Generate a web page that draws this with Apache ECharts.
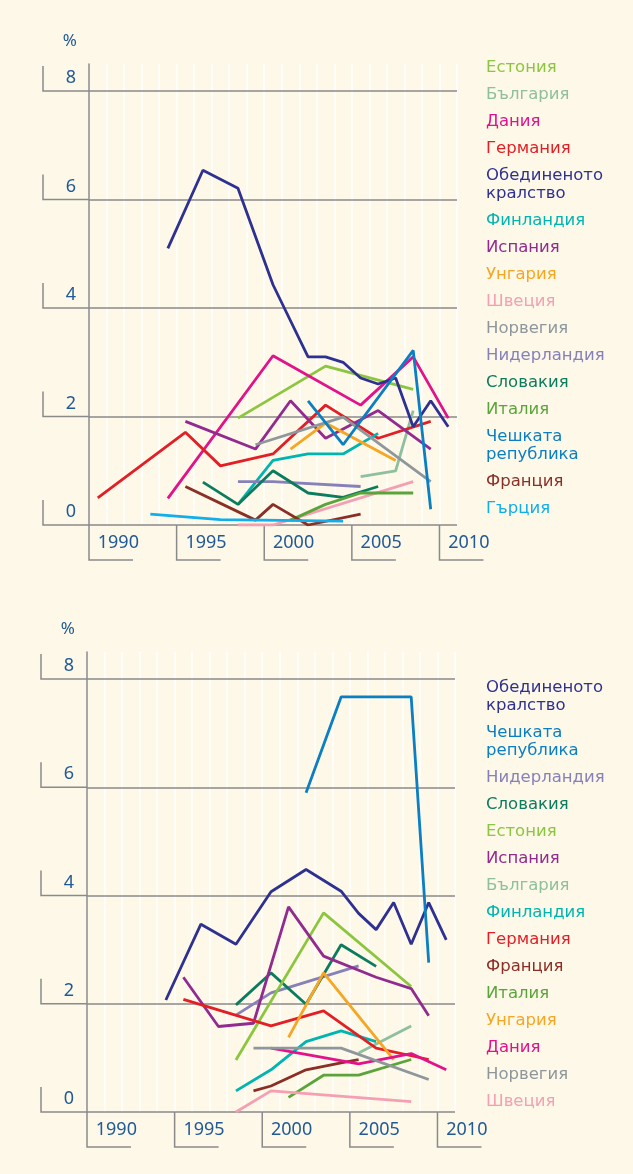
<!DOCTYPE html>
<html>
<head>
<meta charset="utf-8">
<script src="https://cdn.jsdelivr.net/npm/echarts@6/dist/echarts.min.js"></script>
<style>
  html, body { margin: 0; padding: 0; background: #fdf8e8; }
  #chart { width: 633px; height: 1174px; }
</style>
</head>
<body>
<div id="chart"></div>
<script>
// years on the x axis (one band per year)
const years = ['1990', '1991', '1992', '1993', '1994', '1995', '1996', '1997', '1998', '1999', '2000',
  '2001', '2002', '2003', '2004', '2005', '2006', '2007', '2008', '2009', '2010'];
const yearLabels = ['1990', '1995', '2000', '2005', '2010'];
const yTicks = [0, 2, 4, 6, 8];

// top chart: [year, %]
const estonia1 = [[1998, 1.97], [2003, 2.93], [2008, 2.50]];
const bulgaria1 = [[2005, 0.89], [2007, 1.00], [2008, 2.11]];
const denmark1 = [[1994, 0.49], [2000, 3.12], [2005, 2.21], [2008, 3.10], [2010, 1.97]];
const germany1 = [[1990, 0.50], [1995, 1.71], [1997, 1.09], [2000, 1.31], [2003, 2.21], [2006, 1.60], [2009, 1.91]];
const uk1 = [[1994, 5.10], [1996, 6.54], [1998, 6.21], [2000, 4.43], [2002, 3.10], [2003, 3.10], [2004, 3.00],
  [2005, 2.71], [2006, 2.60], [2007, 2.71], [2008, 1.81], [2009, 2.29], [2010, 1.81]];
const finland1 = [[1998, 0.38], [2000, 1.19], [2002, 1.31], [2004, 1.31], [2006, 1.69]];
const spain1 = [[1995, 1.91], [1999, 1.40], [2001, 2.29], [2003, 1.60], [2006, 2.11], [2009, 1.40]];
const hungary1 = [[2001, 1.40], [2003, 1.88], [2007, 1.19]];
const sweden1 = [[1998, 0], [2000, 0], [2008, 0.80]];
const norway1 = [[1999, 1.48], [2004, 1.99], [2009, 0.80]];
const netherlands1 = [[1998, 0.80], [2000, 0.80], [2005, 0.71]];
const slovakia1 = [[1996, 0.79], [1998, 0.38], [2000, 1.00], [2002, 0.59], [2004, 0.51], [2006, 0.71]];
const italy1 = [[2001, 0.09], [2003, 0.38], [2005, 0.59], [2008, 0.59]];
const czech1 = [[2002, 2.29], [2004, 1.48], [2008, 3.22], [2009, 0.29]];
const france1 = [[1995, 0.71], [1999, 0.09], [2000, 0.38], [2002, 0], [2005, 0.20]];
const greece1 = [[1993, 0.20], [1997, 0.10], [2004, 0.07]];

// bottom chart: [year, %]
const uk2 = [[1994, 2.07], [1996, 3.47], [1998, 3.10], [2000, 4.07], [2002, 4.48], [2004, 4.08], [2005, 3.67],
  [2006, 3.37], [2007, 3.87], [2008, 3.10], [2009, 3.87], [2010, 3.18]];
const czech2 = [[2002, 5.90], [2004, 7.67], [2008, 7.67], [2009, 2.76]];
const netherlands2 = [[1998, 1.79], [2000, 2.20], [2005, 2.70]];
const slovakia2 = [[1998, 1.98], [2000, 2.57], [2002, 1.99], [2004, 3.09], [2006, 2.69]];
const estonia2 = [[1998, 0.96], [2003, 3.68], [2008, 2.32]];
const spain2 = [[1995, 2.49], [1997, 1.58], [1999, 1.64], [2001, 3.79], [2003, 2.88], [2006, 2.49], [2008, 2.28], [2009, 1.78]];
const bulgaria2 = [[2005, 1.09], [2008, 1.59]];
const finland2 = [[1998, 0.39], [2000, 0.78], [2002, 1.30], [2004, 1.50], [2006, 1.30]];
const germany2 = [[1995, 2.08], [2000, 1.59], [2003, 1.87], [2006, 1.18], [2009, 0.97]];
const france2 = [[1999, 0.39], [2000, 0.48], [2002, 0.78], [2004, 0.91], [2005, 0.97]];
const italy2 = [[2001, 0.27], [2003, 0.68], [2005, 0.68], [2008, 0.97]];
const hungary2 = [[2001, 1.38], [2003, 2.57], [2007, 0.97]];
const denmark2 = [[2000, 1.18], [2005, 0.89], [2008, 1.08], [2010, 0.78]];
const norway2 = [[1999, 1.18], [2004, 1.18], [2009, 0.60]];
const sweden2 = [[1998, 0], [2000, 0.39], [2008, 0.19]];

const colors = {
  'Естония': '#8cc63f',
  'България': '#8fc09e',
  'Дания': '#e2128b',
  'Германия': '#e31f26',
  'Обединеното\nкралство': '#2e3191',
  'Финландия': '#00b5b1',
  'Испания': '#922b8f',
  'Унгария': '#f6a623',
  'Швеция': '#f59fb2',
  'Норвегия': '#8d979c',
  'Нидерландия': '#8781b9',
  'Словакия': '#0b7c5e',
  'Италия': '#5ba43b',
  'Чешката\nрепублика': '#0a7fc4',
  'Франция': '#8b2e25',
  'Гърция': '#10aeea'
};

const topSeries = [
  ['Естония', estonia1], ['България', bulgaria1], ['Дания', denmark1], ['Германия', germany1],
  ['Обединеното\nкралство', uk1], ['Финландия', finland1], ['Испания', spain1], ['Унгария', hungary1],
  ['Швеция', sweden1], ['Норвегия', norway1], ['Нидерландия', netherlands1], ['Словакия', slovakia1],
  ['Италия', italy1], ['Чешката\nрепублика', czech1], ['Франция', france1], ['Гърция', greece1]
];
const bottomSeries = [
  ['Обединеното\nкралство', uk2], ['Чешката\nрепублика', czech2], ['Нидерландия', netherlands2],
  ['Словакия', slovakia2], ['Естония', estonia2], ['Испания', spain2], ['България', bulgaria2],
  ['Финландия', finland2], ['Германия', germany2], ['Франция', france2], ['Италия', italy2],
  ['Унгария', hungary2], ['Дания', denmark2], ['Норвегия', norway2], ['Швеция', sweden2]
];

const font = 'Noto Sans';
const legendFont = 'DejaVu Sans';
const textBlue = '#215a98';
const rule = '#8a8a8a';

const chart = echarts.init(document.getElementById('chart'), null, { renderer: 'canvas' });

function makeX(gridIndex) {
  return {
    type: 'category',
    gridIndex: gridIndex,
    z: 0,
    data: years,
    boundaryGap: true,
    axisLine: { show: false },
    axisTick: { show: false },
    axisLabel: {
      interval: 4,
      align: 'left',
      margin: 9,
      color: textBlue,
      fontSize: 18,
      fontFamily: font
    },
    splitLine: { show: true, interval: 0, lineStyle: { color: '#ffffff', width: 1.5, type: 'solid' } }
  };
}

function makeY(gridIndex) {
  return {
    type: 'value',
    gridIndex: gridIndex,
    z: 1,
    min: 0,
    max: 8.5,
    interval: 2,
    name: '%',
    nameLocation: 'end',
    nameGap: 14,
    nameTextStyle: { color: textBlue, fontSize: 17, fontFamily: font, align: 'right', padding: [0, 12, 0, 0] },
    axisLine: { show: true, lineStyle: { color: rule, width: 1.5 } },
    axisTick: { show: false },
    axisLabel: {
      formatter: v => (yTicks.indexOf(v) >= 0 ? String(v) : ''),
      verticalAlign: 'bottom',
      padding: [0, 0, 4, 0],
      margin: 13,
      color: textBlue,
      fontSize: 18,
      fontFamily: font
    },
    splitLine: { show: true, showMaxLine: false, lineStyle: { color: rule, width: 1.5, type: 'solid' } }
  };
}

function makeLegend(names, top) {
  return {
    orient: 'vertical',
    left: 475,
    top: top,
    itemWidth: 0,
    itemHeight: 0,
    itemGap: 9,
    selectedMode: false,
    textStyle: { fontSize: 16.5, lineHeight: 18, fontFamily: legendFont },
    data: names.map(n => ({ name: n, textStyle: { color: colors[n] } }))
  };
}

function makeSeries(list, gridIndex) {
  return list.map(([name, pts]) => ({
    name: name,
    type: 'line',
    xAxisIndex: gridIndex,
    yAxisIndex: gridIndex,
    symbol: 'none',
    silent: true,
    z: 3,
    color: colors[name],
    lineStyle: { width: 2.8, color: colors[name] },
    data: pts.map(p => [String(p[0]), p[1]])
  }));
}

chart.setOption({
  animation: false,
  backgroundColor: '#fdf8e8',
  textStyle: { fontFamily: font },
  grid: [
    { left: 89, top: 64, width: 368, height: 461 },
    { left: 87, top: 652, width: 368, height: 460 }
  ],
  xAxis: [makeX(0), makeX(1)],
  yAxis: [makeY(0), makeY(1)],
  legend: [
    makeLegend(topSeries.map(s => s[0]), 54),
    makeLegend(bottomSeries.map(s => s[0]), 674)
  ],
  series: makeSeries(topSeries, 0).concat(makeSeries(bottomSeries, 1))
});

// bracket rules next to the axis labels
function drawBrackets() {
  const els = [];
  [0, 1].forEach(g => {
    const finder = { xAxisIndex: g, yAxisIndex: g };
    const a = chart.convertToPixel(finder, [0, 0]);
    const b = chart.convertToPixel(finder, [1, 0]);
    const band = b[0] - a[0];
    const left = a[0] - band / 2;
    const bottom = a[1];
    yTicks.forEach(v => {
      const y = chart.convertToPixel({ yAxisIndex: g }, v);
      els.push({
        type: 'polyline',
        shape: { points: [[left - 46, y - 25], [left - 46, y], [left, y]] },
        style: { stroke: rule, lineWidth: 1.5, fill: null }
      });
    });
    yearLabels.forEach(yr => {
      const x = chart.convertToPixel({ xAxisIndex: g }, years.indexOf(yr)) - band / 2;
      els.push({
        type: 'polyline',
        shape: { points: [[x, bottom], [x, bottom + 35], [x + 44, bottom + 35]] },
        style: { stroke: rule, lineWidth: 1.5, fill: null }
      });
    });
  });
  chart.setOption({ graphic: els });
}
drawBrackets();
</script>
</body>
</html>
